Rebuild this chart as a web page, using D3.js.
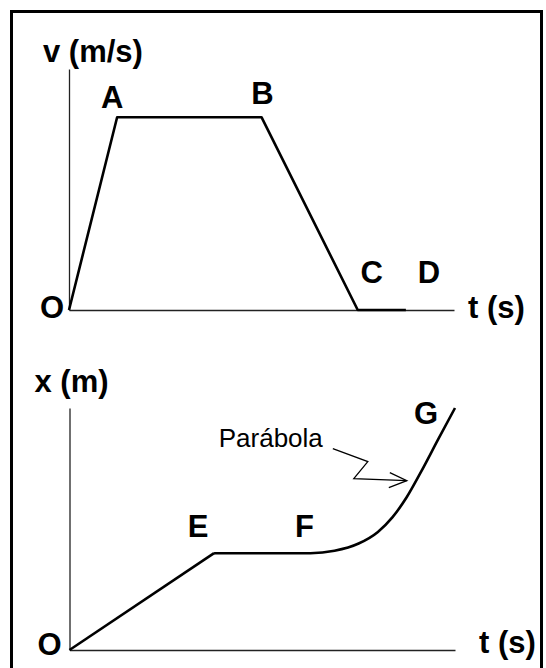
<!DOCTYPE html>
<html>
<head>
<meta charset="utf-8">
<script src="https://cdn.jsdelivr.net/npm/d3@7"></script>
<style>
  body { margin: 0; background: #fff; }
  text { font-family: "Liberation Sans", Arial, sans-serif; fill: #000; }
  .lbl { font-size: 31px; font-weight: bold; }
  .note { font-size: 26px; }
  .axis path { stroke: #222; stroke-width: 1.3; }
  .curve { fill: none; stroke: #000; stroke-width: 2.6; stroke-linejoin: round; }
</style>
</head>
<body>
<script>
(function(d3) {
    'use strict';

    // v-t graph (top)
    var velTime = [0, 1, 4, 6, 7];
    var velValue = [0, 4, 4, 0, 0];
    var velLabels = ['O', 'A', 'B', 'C', 'D'];

    // x-t graph (bottom): straight part O-E-F, then the parabola F-G
    var posTime = [0, 3, 5, 5.5, 6, 6.4, 6.7, 7.0, 7.3, 7.65, 8.0];
    var posValue = [0, 2, 2, 2.05, 2.2, 2.44, 2.74, 3.16, 3.69, 4.35, 5.0];
    var posLabels = ['O', 'E', 'F', 'G'];
    var posLabelIdx = [0, 1, 2, 10];

    var settings = {
        width: 546,
        height: 668,
        tMax: 8,
        vMax: 5,
        xMax: 5,
        // label offsets from their points, px
        velOffsets: [[-5, 8, 'end'], [-5, -9, 'middle'], [1, -13, 'middle'], [14, -27, 'middle'], [23, -27, 'middle']],
        posOffsets: [[-8, 5, 'end'], [-16, -16, 'middle'], [-6, -16, 'middle'], [-29, 16, 'middle']]
    };

    var svg = d3.select('body')
        .append('svg')
        .attr('width', settings.width)
        .attr('height', settings.height);

    svg.append('rect')
        .attr('x', 11.5)
        .attr('y', 11.5)
        .attr('width', 530)
        .attr('height', 720)
        .attr('fill', 'none')
        .attr('stroke', '#000')
        .attr('stroke-width', 3);

    function drawAxes(x, y, yTitle, ox, oy) {
        svg.append('g')
            .attr('class', 'axis')
            .attr('transform', 'translate(0,' + y(0) + ')')
            .call(d3.axisBottom(x).ticks(0).tickSize(0).tickSizeOuter(0));
        svg.append('g')
            .attr('class', 'axis')
            .attr('transform', 'translate(' + x(0) + ',0)')
            .call(d3.axisLeft(y).ticks(0).tickSize(0).tickSizeOuter(0));
        svg.selectAll('.axis text').remove();

        svg.append('text')
            .attr('class', 'lbl')
            .attr('x', x(0) + ox[0])
            .attr('y', y.range()[1] + ox[1])
            .text(yTitle);
        svg.append('text')
            .attr('class', 'lbl')
            .attr('x', x.range()[1] + oy[0])
            .attr('y', y(0) + oy[1])
            .text('t (s)');
    }

    // ---- top: v(t)
    var xTop = d3.scaleLinear().domain([0, settings.tMax]).range([69, 454]);
    var yTop = d3.scaleLinear().domain([0, settings.vMax]).range([310, 69]);

    drawAxes(xTop, yTop, 'v (m/s)', [-26, -7], [14, 8]);

    var velPts = velTime.map(function(t, i) { return [t, velValue[i]]; });

    svg.append('path')
        .attr('class', 'curve')
        .attr('d', d3.line()
            .x(function(d) { return xTop(d[0]); })
            .y(function(d) { return yTop(d[1]); })(velPts));

    svg.selectAll('text.vel')
        .data(velLabels)
        .enter()
        .append('text')
        .attr('class', 'lbl vel')
        .attr('x', function(d, i) { return xTop(velTime[i]) + settings.velOffsets[i][0]; })
        .attr('y', function(d, i) { return yTop(velValue[i]) + settings.velOffsets[i][1]; })
        .attr('text-anchor', function(d, i) { return settings.velOffsets[i][2]; })
        .text(function(d) { return d; });

    // ---- bottom: x(t)
    var xBot = d3.scaleLinear().domain([0, settings.tMax]).range([69.5, 455]);
    var yBot = d3.scaleLinear().domain([0, settings.xMax]).range([650, 408]);

    drawAxes(xBot, yBot, 'x (m)', [-35, -16], [24, 3]);

    var posPts = posTime.map(function(t, i) { return [t, posValue[i]]; });

    var lineBot = d3.line()
        .x(function(d) { return xBot(d[0]); })
        .y(function(d) { return yBot(d[1]); });

    svg.append('path')
        .attr('class', 'curve')
        .attr('d', lineBot(posPts.slice(0, 2)));

    svg.append('path')
        .attr('class', 'curve')
        .attr('d', lineBot.curve(d3.curveMonotoneX)(posPts.slice(1)));

    svg.selectAll('text.pos')
        .data(posLabels)
        .enter()
        .append('text')
        .attr('class', 'lbl pos')
        .attr('x', function(d, i) { return xBot(posTime[posLabelIdx[i]]) + settings.posOffsets[i][0]; })
        .attr('y', function(d, i) { return yBot(posValue[posLabelIdx[i]]) + settings.posOffsets[i][1]; })
        .attr('text-anchor', function(d, i) { return settings.posOffsets[i][2]; })
        .text(function(d) { return d; });

    // "Parábola" callout with zigzag arrow
    var tipX = xBot(7.0), tipY = yBot(3.5);
    var zig = [[-74, -32], [-39, -19], [-53, -2], [0, 0]];
    var head = [[-17, -8], [0, 0], [-18, 7]];
    var rel = d3.line()
        .x(function(d) { return tipX + d[0]; })
        .y(function(d) { return tipY + d[1]; });

    svg.append('path')
        .attr('d', rel(zig))
        .attr('fill', 'none')
        .attr('stroke', '#000')
        .attr('stroke-width', 1.3);
    svg.append('path')
        .attr('d', rel(head))
        .attr('fill', 'none')
        .attr('stroke', '#000')
        .attr('stroke-width', 1.3);

    svg.append('text')
        .attr('class', 'note')
        .attr('x', tipX - 84)
        .attr('y', tipY - 34)
        .attr('text-anchor', 'end')
        .text('Parábola');

})(window.d3);
</script>
</body>
</html>
